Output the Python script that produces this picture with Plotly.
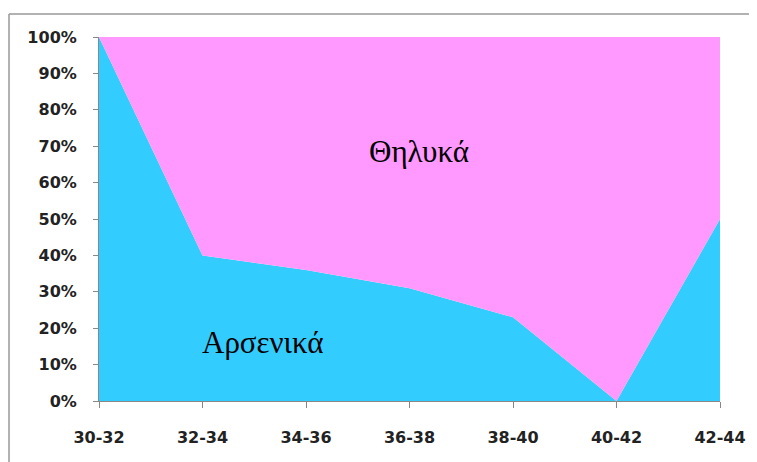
"""
Stacked 100% area chart: male / female share per age group.
"""

import plotly.graph_objects as go

age_groups = ['30-32', '32-34', '34-36', '36-38', '38-40', '40-42', '42-44']
males = [100, 40, 36, 31, 23, 0, 50]
females = [0, 60, 64, 69, 77, 100, 50]
y_ticks = [0, 10, 20, 30, 40, 50, 60, 70, 80, 90, 100]
y_labels = [f'{v}%' for v in y_ticks]


def build_fig():
    fig = go.Figure()
    fig.add_trace(go.Scatter(x=age_groups, y=males, name='Αρσενικά',
                             stackgroup='one', mode='none',
                             fillcolor='#33CCFF'))
    fig.add_trace(go.Scatter(x=age_groups, y=females, name='Θηλυκά',
                             stackgroup='one', mode='none',
                             fillcolor='#FF99FF'))

    tick_font = dict(family='DejaVu Sans', size=16, color='#222222', weight='bold')
    # page body has an 8px margin, so the figure is a bit smaller
    fig.update_layout(
        width=749, height=454,
        margin=dict(l=91, r=37, t=29, b=61),
        paper_bgcolor='white', plot_bgcolor='white',
        showlegend=False,
        xaxis=dict(type='category', range=[0, 6], showgrid=False,
                   showline=True, linecolor='#888888', linewidth=1,
                   ticks='outside', ticklen=6, tickcolor='#888888',
                   tickfont=tick_font, ticklabelstandoff=16),
        yaxis=dict(range=[0, 100], tickvals=y_ticks, ticktext=y_labels,
                   showgrid=False, zeroline=False,
                   showline=True, linecolor='#888888', linewidth=1,
                   ticks='outside', ticklen=5, tickcolor='#888888',
                   tickfont=tick_font, ticklabelstandoff=13),
        # outer chart frame: only its top and left edges are in view
        shapes=[dict(type='line', xref='paper', yref='paper',
                     x0=-90 / 621, x1=1.2, y0=1 + 23 / 364, y1=1 + 23 / 364,
                     line=dict(color='#999999', width=1.5), layer='below'),
                dict(type='line', xref='paper', yref='paper',
                     x0=-90 / 621, x1=-90 / 621, y0=-0.3, y1=1 + 23 / 364,
                     line=dict(color='#999999', width=1.5), layer='below')],
        annotations=[
            dict(text='Θηλυκά', x=3.09, y=68.5, showarrow=False,
                 font=dict(family='Liberation Serif', size=31, color='black')),
            dict(text='Αρσενικά', x=1.585, y=16, showarrow=False,
                 font=dict(family='Liberation Serif', size=31, color='black')),
        ],
    )
    return fig


if __name__ == '__main__':
    fig = build_fig()
    fig.write_html('out.html')
